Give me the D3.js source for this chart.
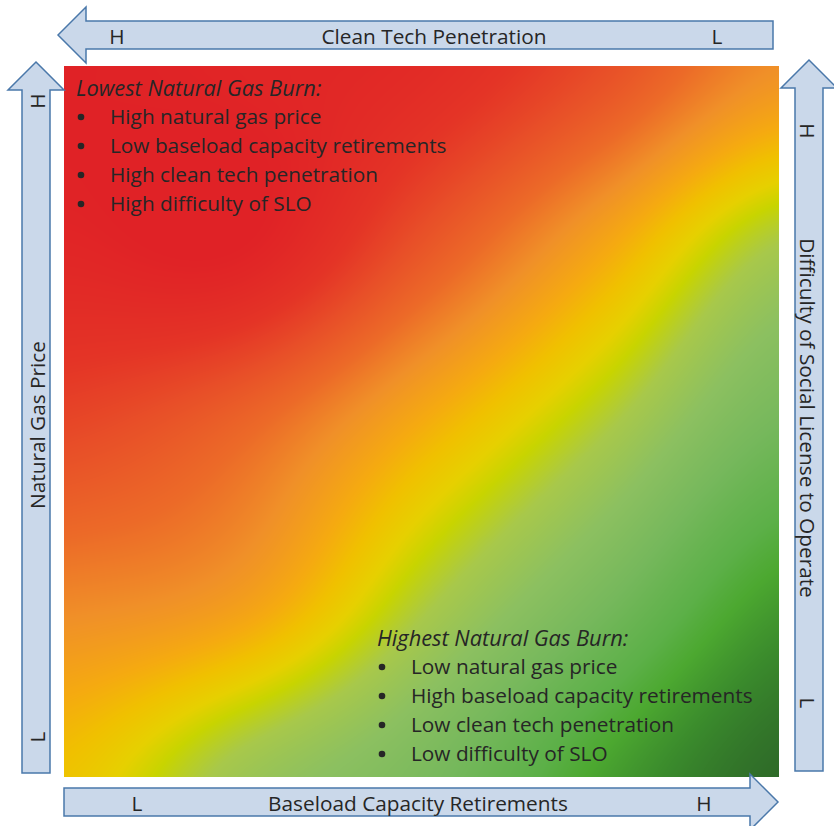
<!DOCTYPE html>
<html>
<head>
<meta charset="utf-8">
<script src="https://cdn.jsdelivr.net/npm/d3@7"></script>
<style>
  html, body { margin: 0; padding: 0; background: #fff; }
  svg { display: block; }
  text { font-family: "Open Sans", "Noto Sans", sans-serif; fill: #262626; }
</style>
</head>
<body>
<svg id="chart" width="834" height="826"></svg>
<script>
// Colour ramp: "burn level" from 0 (lowest gas burn, red) to 1 (highest, dark green)
const rampStops  = [0.00, 0.10, 0.18, 0.26, 0.34, 0.42, 0.47, 0.52, 0.56, 0.62, 0.70, 0.78, 0.86, 0.90, 0.95, 1.00];
const rampColors = ["#e02226", "#e43426", "#e85028", "#ec6a28", "#f09028", "#f5aa10", "#f0c000",
                    "#e6d000", "#c8d400", "#a8c84a", "#8cc060", "#76b85c", "#5cb048", "#4ca830",
                    "#3a8a2c", "#2e6a28"];

// Burn level at control points on a 5 x 5 grid (fractions of the square), rows from the top
const gridU = [0, 0.25, 0.5, 0.75, 1];
const gridV = [0, 0.25, 0.5, 0.75, 1];
const levelRow0 = [0.00, 0.02, 0.05, 0.17, 0.34];
const levelRow1 = [0.02, 0.00, 0.19, 0.40, 0.62];
const levelRow2 = [0.15, 0.24, 0.42, 0.60, 0.78];
const levelRow3 = [0.32, 0.38, 0.60, 0.77, 0.92];
const levelRow4 = [0.48, 0.65, 0.76, 0.91, 1.00];
const levelGrid = [levelRow0, levelRow1, levelRow2, levelRow3, levelRow4];

// Axis arrows
const topAxis = { label: "Clean Tech Penetration", start: "H", end: "L" };
const bottomAxis = { label: "Baseload Capacity Retirements", start: "L", end: "H" };
const leftAxis = { label: "Natural Gas Price", start: "H", end: "L" };
const rightAxis = { label: "Difficulty of Social License to Operate", start: "H", end: "L" };

// Corner annotations
const lowTitle = "Lowest Natural Gas Burn:";
const lowItems = ["High natural gas price", "Low baseload capacity retirements",
                  "High clean tech penetration", "High difficulty of SLO"];
const highTitle = "Highest Natural Gas Burn:";
const highItems = ["Low natural gas price", "High baseload capacity retirements",
                   "Low clean tech penetration", "Low difficulty of SLO"];

const svg = d3.select("#chart");
const sq = { x0: 64, y0: 66, x1: 779, y1: 777 };
const W = sq.x1 - sq.x0, H = sq.y1 - sq.y0;

const xScale = d3.scaleLinear().domain([0, 1]).range([sq.x0, sq.x1]);
const yScale = d3.scaleLinear().domain([0, 1]).range([sq.y0, sq.y1]);
const colorScale = d3.scaleLinear().domain(rampStops).range(rampColors)
  .interpolate(d3.interpolateRgb).clamp(true);

// ---- colour field: smooth (Catmull-Rom) level surface mapped through the ramp ----
const uIndex = d3.scaleLinear().domain(gridU).range(d3.range(gridU.length)).clamp(true);
const vIndex = d3.scaleLinear().domain(gridV).range(d3.range(gridV.length)).clamp(true);
const nu = gridU.length, nv = gridV.length;
const at = (j, i) => levelGrid[Math.max(0, Math.min(nv - 1, j))][Math.max(0, Math.min(nu - 1, i))];
function cr(p0, p1, p2, p3, t) {
  return 0.5 * (2 * p1 + (-p0 + p2) * t + (2 * p0 - 5 * p1 + 4 * p2 - p3) * t * t
                + (-p0 + 3 * p1 - 3 * p2 + p3) * t * t * t);
}
const LUT_N = 1024;
const lut = d3.range(LUT_N).map(k => { const c = d3.rgb(colorScale(k / (LUT_N - 1))); return [c.r, c.g, c.b]; });

const canvas = document.createElement("canvas");
canvas.width = W; canvas.height = H;
const ctx = canvas.getContext("2d");
const img = ctx.createImageData(W, H);
const colI = [], colT = [];
for (let px = 0; px < W; px++) {
  const fu = uIndex(xScale.invert(sq.x0 + px + 0.5));
  const i = Math.min(Math.floor(fu), nu - 2);
  colI.push(i); colT.push(fu - i);
}
for (let py = 0; py < H; py++) {
  const fv = vIndex(yScale.invert(sq.y0 + py + 0.5));
  const j = Math.min(Math.floor(fv), nv - 2), tv = fv - j;
  for (let px = 0; px < W; px++) {
    const i = colI[px], tu = colT[px];
    const rows = [-1, 0, 1, 2].map(dj =>
      cr(at(j + dj, i - 1), at(j + dj, i), at(j + dj, i + 1), at(j + dj, i + 2), tu));
    let lv = cr(rows[0], rows[1], rows[2], rows[3], tv);
    lv = Math.max(0, Math.min(1, lv));
    const c = lut[Math.round(lv * (LUT_N - 1))];
    const o = (py * W + px) * 4;
    img.data[o] = c[0]; img.data[o + 1] = c[1]; img.data[o + 2] = c[2]; img.data[o + 3] = 255;
  }
}
ctx.putImageData(img, 0, 0);

svg.append("image")
  .attr("x", sq.x0).attr("y", sq.y0)
  .attr("width", W).attr("height", H)
  .attr("preserveAspectRatio", "none")
  .attr("href", canvas.toDataURL());

// ---- block arrows ----
const arrowFill = "#cad8ea", arrowStroke = "#4a78aa";
const shaftHalf = 14, headHalf = 28, headLen = 28;

function hArrow(xStart, xEnd, yc, dir) { // dir -1: head on the left, +1: head on the right
  if (dir < 0) {
    const tip = xStart, base = xStart + headLen;
    return [[tip, yc], [base, yc - headHalf], [base, yc - shaftHalf], [xEnd, yc - shaftHalf],
            [xEnd, yc + shaftHalf], [base, yc + shaftHalf], [base, yc + headHalf]];
  }
  const tip = xEnd, base = xEnd - headLen;
  return [[tip, yc], [base, yc + headHalf], [base, yc + shaftHalf], [xStart, yc + shaftHalf],
          [xStart, yc - shaftHalf], [base, yc - shaftHalf], [base, yc - headHalf]];
}
function vArrowUp(xc, yTip, yEnd) {
  const base = yTip + headLen;
  return [[xc, yTip], [xc + headHalf, base], [xc + shaftHalf, base], [xc + shaftHalf, yEnd],
          [xc - shaftHalf, yEnd], [xc - shaftHalf, base], [xc - headHalf, base]];
}
const line = d3.line().curve(d3.curveLinearClosed);
const arrows = [
  hArrow(58, 773, 35, -1),
  hArrow(64, 778, 802, 1),
  vArrowUp(36, 62, 773),
  vArrowUp(809, 60, 771)
];
svg.selectAll("path.arrow").data(arrows).join("path")
  .attr("class", "arrow")
  .attr("d", line)
  .attr("fill", arrowFill)
  .attr("stroke", arrowStroke)
  .attr("stroke-width", 1.5);

const axisFont = 20.8;
function axisText(x, y, txt, rot) {
  svg.append("text")
    .attr("transform", `translate(${x},${y}) rotate(${rot})`)
    .attr("text-anchor", "middle")
    .attr("dominant-baseline", "central")
    .attr("font-size", axisFont)
    .text(txt);
}
axisText(434, 36, topAxis.label, 0);
axisText(117, 36, topAxis.start, 0);
axisText(717, 36, topAxis.end, 0);

axisText(418, 803, bottomAxis.label, 0);
axisText(137, 803, bottomAxis.start, 0);
axisText(704, 803, bottomAxis.end, 0);

axisText(37, 425, leftAxis.label, -90);
axisText(37, 101, leftAxis.start, -90);
axisText(37, 737, leftAxis.end, -90);

axisText(808, 418, rightAxis.label, 90);
axisText(808, 131, rightAxis.start, 90);
axisText(808, 703, rightAxis.end, 90);

// ---- corner annotations ----
function annotation(x, yTitle, title, items) {
  const g = svg.append("g");
  g.append("text")
    .attr("x", x).attr("y", yTitle)
    .attr("dominant-baseline", "central")
    .attr("font-size", 21.8).attr("font-style", "italic")
    .text(title);
  const rows = g.selectAll("g.item").data(items).join("g")
    .attr("class", "item")
    .attr("transform", (d, i) => `translate(0,${yTitle + 29 * (i + 1)})`);
  rows.append("circle").attr("cx", x + 5).attr("cy", 1).attr("r", 3.3).attr("fill", "#262626");
  rows.append("text")
    .attr("x", x + 34).attr("y", 0)
    .attr("dominant-baseline", "central")
    .attr("font-size", 20.8)
    .text(d => d);
}
annotation(76, 87, lowTitle, lowItems);
annotation(377, 637, highTitle, highItems);
</script>
</body>
</html>
